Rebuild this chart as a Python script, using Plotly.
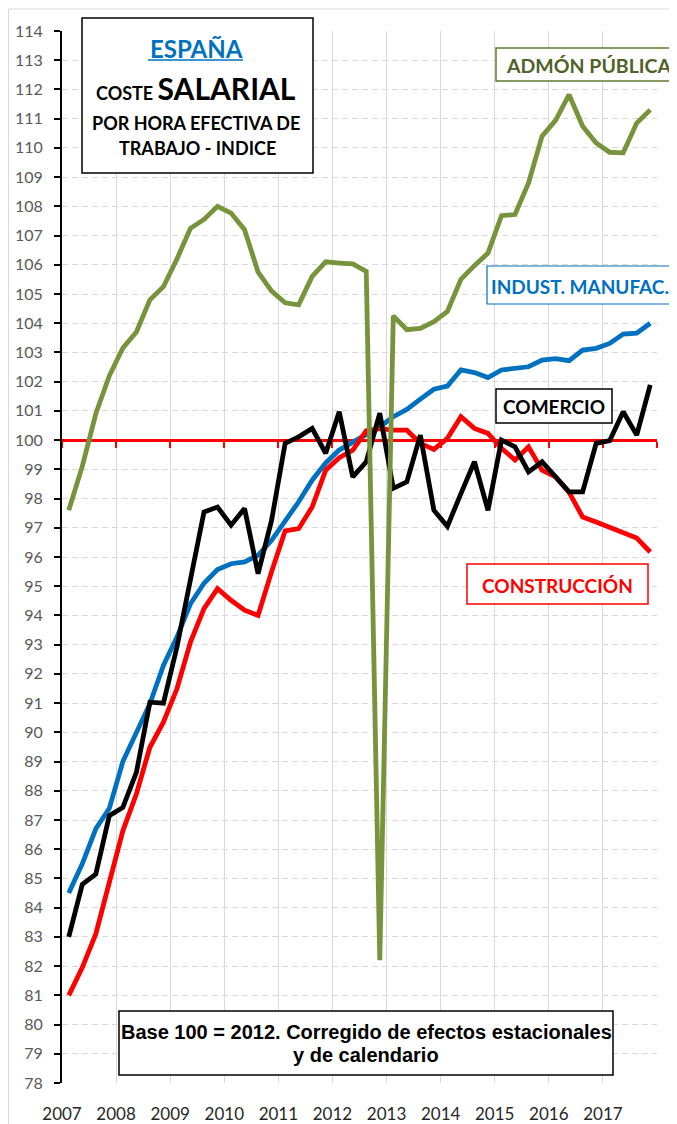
import plotly.graph_objects as go

# ---------------- data (quarterly, 2007T1 .. 2017T4) ----------------
years = list(range(2007, 2018))
periods = [f"{y}T{q}" for y in years for q in range(1, 5)]

admon_publica = [97.6, 99.1, 100.9, 102.2, 103.15, 103.7, 104.8, 105.25, 106.2, 107.25,
                 107.55, 108.0, 107.77, 107.2, 105.75, 105.1, 104.7, 104.63, 105.6, 106.1,
                 106.06, 106.03, 105.77, 82.2, 104.25, 103.78, 103.82, 104.05, 104.4, 105.5,
                 105.97, 106.4, 107.68, 107.72, 108.8, 110.4, 110.94, 111.82, 110.74, 110.17,
                 109.85, 109.83, 110.85, 111.3]
indust_manufac = [84.5, 85.5, 86.7, 87.4, 89.0, 89.95, 90.98, 92.29, 93.26, 94.4,
                  95.1, 95.57, 95.77, 95.83, 96.06, 96.57, 97.2, 97.89, 98.63, 99.22,
                  99.66, 99.94, 100.2, 100.46, 100.8, 101.05, 101.4, 101.74, 101.85, 102.4,
                  102.31, 102.14, 102.4, 102.46, 102.51, 102.74, 102.79, 102.72, 103.08, 103.14,
                  103.31, 103.63, 103.66, 104.0]
comercio = [83.0, 84.8, 85.15, 87.15, 87.43, 88.63, 91.03, 91.0, 92.92, 95.2,
            97.54, 97.71, 97.09, 97.66, 95.43, 97.26, 99.89, 100.11, 100.4, 99.55,
            100.97, 98.74, 99.26, 100.92, 98.35, 98.57, 100.17, 97.6, 97.05, 98.17,
            99.26, 97.6, 100.0, 99.77, 98.91, 99.26, 98.74, 98.23, 98.23, 99.89,
            99.98, 100.97, 100.17, 101.89]
construccion = [81.0, 81.95, 83.1, 84.85, 86.63, 87.89, 89.49, 90.35, 91.49, 93.09,
                94.23, 94.92, 94.52, 94.18, 94.0, 95.5, 96.89, 96.97, 97.71, 98.97,
                99.4, 99.66, 100.32, 100.39, 100.34, 100.34, 99.89, 99.68, 100.06, 100.8,
                100.4, 100.23, 99.72, 99.32, 99.77, 98.97, 98.74, 98.21, 97.37, 97.2,
                97.01, 96.86, 96.65, 96.17]
base_value = 100
year_labels = [str(y) for y in years]

# ---------------- layout helpers ----------------
# the page body has an 8px margin: the figure starts at (8, 8) in the window
OFF = 8
W, H = 677 - OFF, 1124 - OFF
L, R, T, B = 62 - OFF, 20, 31 - OFF, 41
PW, PH = W - L - R, H - T - B

def px(x):  # window pixel -> paper x
    return (x - OFF - L) / PW

def py(y):  # window pixel -> paper y
    return (H - B - (y - OFF)) / PH

idx = list(range(len(periods)))
bounds = [i * 4 - 0.5 for i in range(len(years) + 1)]

fig = go.Figure()

series = [
    (indust_manufac, "#0070C0", "INDUST. MANUFAC."),
    (construccion, "#FF0000", "CONSTRUCCIÓN"),
    (comercio, "#000000", "COMERCIO"),
    (admon_publica, "#77933C", "ADMÓN PÚBLICA"),
]
for vals, col, name in series:
    fig.add_trace(go.Scatter(x=idx, y=vals, mode="lines", name=name,
                             line=dict(color=col, width=4.8), hoverinfo="skip"))

ymin, ymax = 78, 114
fig.update_layout(
    width=W, height=H,
    margin=dict(l=L, r=R, t=T, b=B, autoexpand=False),
    paper_bgcolor="white", plot_bgcolor="white",
    showlegend=False,
    xaxis=dict(
        range=[-0.5, len(periods) - 0.5],
        tickvals=bounds, ticktext=[""] * len(bounds),
        anchor="free", position=(base_value - ymin) / (ymax - ymin),
        showline=True, linecolor="#FF0000", linewidth=2.5,
        ticks="outside", ticklen=6, tickwidth=2, tickcolor="#FF0000",
        showgrid=True, gridcolor="#D9D9D9", gridwidth=1.3,
        zeroline=False, layer="below traces", automargin=False,
    ),
    xaxis2=dict(
        overlaying="x", anchor="y", side="bottom",
        range=[-0.5, len(periods) - 0.5],
        tickvals=bounds, ticktext=year_labels + [""],
        showline=False, showgrid=False, zeroline=False, ticks="",
        ticklabelstandoff=19, automargin=False,
        tickfont=dict(family="Lato", size=17, color="#262626"),
    ),
    yaxis=dict(
        range=[ymin, ymax], dtick=1, tick0=78,
        showline=True, linecolor="#000000", linewidth=2,
        ticks="outside", ticklen=6, tickwidth=1.5, tickcolor="#000000",
        showgrid=True, gridcolor="#D9D9D9", gridwidth=1.3, griddash="6px,4px",
        zeroline=False, automargin=False,
        ticklabelstandoff=8,
        tickfont=dict(family="Lato", size=16, color="#595959"),
    ),
)
# empty trace so the label axis is rendered
fig.add_trace(go.Scatter(x=[None], y=[None], xaxis="x2", yaxis="y",
                         mode="lines", showlegend=False, hoverinfo="skip"))

shapes = []
# outer chart border
shapes.append(dict(type="rect", xref="paper", yref="paper",
                   x0=px(8.5), x1=px(700), y0=py(1150), y1=py(9),
                   line=dict(color="#D9D9D9", width=1), fillcolor="rgba(0,0,0,0)",
                   layer="below"))

def box(x0, y0, x1, y1, color, width=1.5):
    shapes.append(dict(type="rect", xref="paper", yref="paper",
                       x0=px(x0), x1=px(x1), y0=py(y1), y1=py(y0),
                       line=dict(color=color, width=width), fillcolor="white",
                       layer="above"))

box(82, 18, 313, 173, "#000000")
box(496, 48, 705, 81, "#5F7A2E")
box(487, 266, 705, 304, "#0070C0", 1.2)
box(496, 389, 612, 423, "#000000")
box(467, 564, 648, 604, "#FF0000")
box(119, 1011, 613, 1075, "#000000")
# underline of ESPAÑA
shapes.append(dict(type="line", xref="paper", yref="paper",
                   x0=px(148), x1=px(243), y0=py(60), y1=py(60),
                   line=dict(color="#0070C0", width=1.5), layer="above"))
fig.update_layout(shapes=shapes)

def note(text, x, y, size, color="#000000", family="Lato", xanchor="center"):
    fig.add_annotation(text=text, xref="paper", yref="paper", x=px(x), y=py(y),
                       xanchor=xanchor, yanchor="middle", showarrow=False,
                       font=dict(family=family, size=size, color=color))

note("<b>ESPAÑA</b>", 196, 48, 24, "#0070C0")
note("<b><span style='font-size:18px'>COSTE </span>SALARIAL</b>", 196, 88, 30)
note("<b>POR HORA EFECTIVA DE</b>", 196, 122.5, 18)
note("<b>TRABAJO - INDICE</b>", 197, 148, 18)
note("<b>ADMÓN PÚBLICA</b>", 588.5, 65, 19.5, "#4F6228")
note("<b>INDUST. MANUFAC.</b>", 489, 286, 19, "#0070C0", xanchor="left")
note("<b>COMERCIO</b>", 554, 406.5, 19)
note("<b>CONSTRUCCIÓN</b>", 557, 585, 19, "#FF0000")
note("<b>Base 100 = 2012. Corregido de efectos estacionales</b>", 366, 1032, 20,
     family="Liberation Sans")
note("<b>y de calendario</b>", 366, 1055, 20, family="Liberation Sans")

fig.write_html("out.html")
